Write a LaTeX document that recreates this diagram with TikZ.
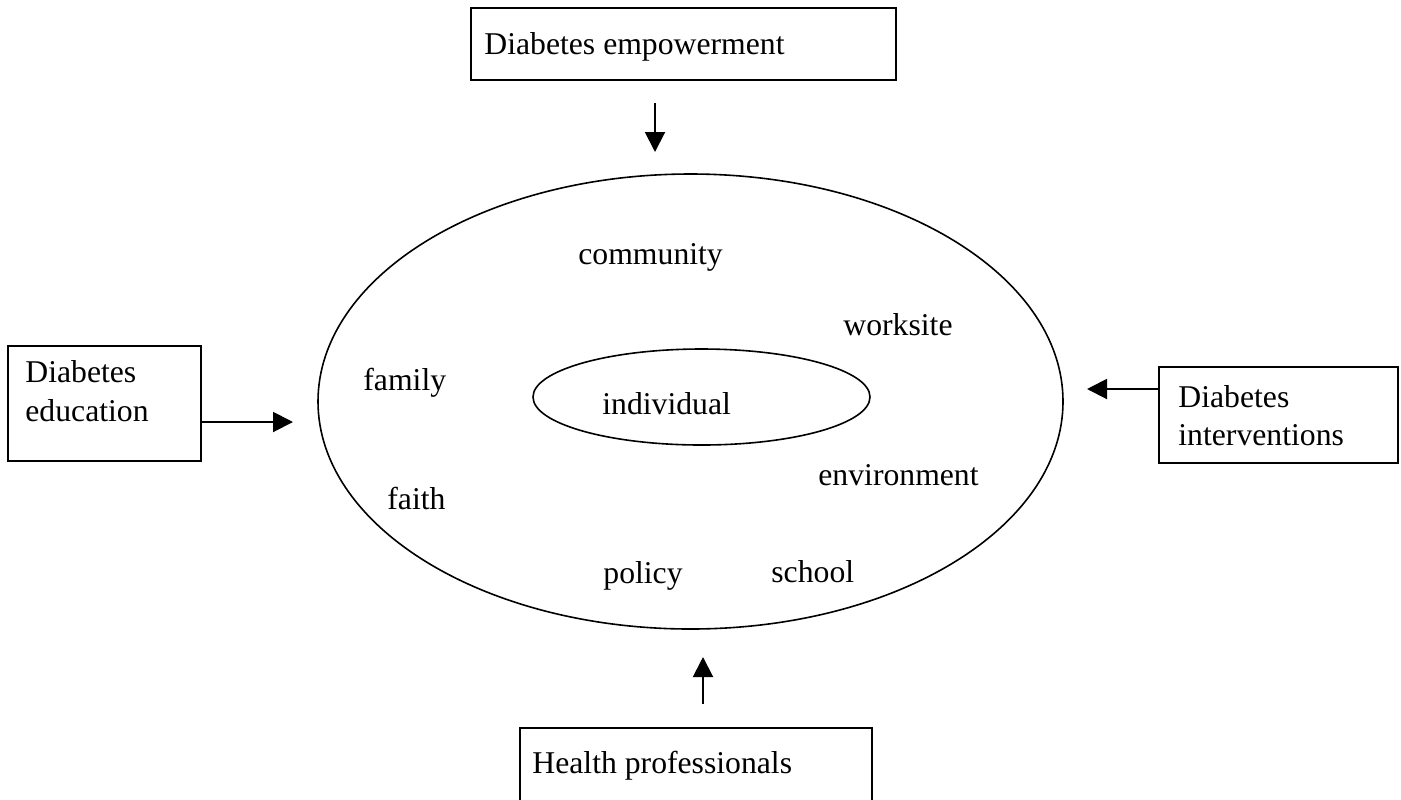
\documentclass[tikz,border=0pt]{standalone}
\usepackage{fontspec}
\setmainfont{Liberation Serif}
\usetikzlibrary{arrows.meta,shapes.geometric}
\begin{document}
\begin{tikzpicture}[x=0.5pt,y=-0.5pt,
  box/.style={draw,line width=1pt,rectangle,inner sep=0,anchor=north west},
  lbl/.style={anchor=base west,inner sep=0,font=\fontsize{15.85pt}{19pt}\selectfont},
  ring/.style={draw,ellipse,line width=0.8pt,inner sep=0},
  arr/.style={line width=1pt,-{Triangle[length=10pt,width=10pt]}}]
\path[use as bounding box] (0,0) rectangle (1401,799);

% outer boxes
\node[box,minimum width=212.5pt,minimum height=36pt] (emp) at (470,7) {};
\node[box,minimum width=96.5pt,minimum height=57.5pt] (edu) at (7,345) {};
\node[box,minimum width=119.5pt,minimum height=48pt] (int) at (1158,366) {};
\node[inner sep=0,anchor=north west,minimum width=175.5pt,minimum height=40pt] (hp) at (520,728) {};
\draw[line width=1pt] (hp.south west) -- (hp.north west) -- (hp.north east) -- (hp.south east);

% box labels
\node[lbl] (empT) at (484,54) {Diabetes empowerment};
\node[lbl] (eduT1) at (25,382) {Diabetes};
\node[lbl] (eduT2) at (25,421) {education};
\node[lbl] (intT1) at (1178,407) {Diabetes};
\node[lbl] (intT2) at (1178,445) {interventions};
\node[lbl] (hpT) at (532,773) {Health professionals};

% ellipses
\node[ring,minimum width=372.5pt,minimum height=227.5pt] (outer) at (690.5,401.5) {};
\node[ring,minimum width=168.5pt,minimum height=48pt] (inner) at (701.5,397) {};

% settings inside the ring
\node[lbl] (indiv) at (602,414) {individual};
\node[lbl] (comm) at (578,264) {community};
\node[lbl] (work) at (843,335) {worksite};
\node[lbl] (env) at (818,485) {environment};
\node[lbl] (fam) at (363,390) {family};
\node[lbl] (faith) at (387,509) {faith};
\node[lbl] (pol) at (603,583) {policy};
\node[lbl] (sch) at (771,582) {school};

% arrows toward the ring
\coordinate (empS) at (655,103);
\coordinate (empE) at (655,152);
\draw[arr] (empS) -- (empE);
\coordinate (eduE) at (293,422);
\draw[arr] (edu.east |- eduE) -- (eduE);
\coordinate (intE) at (1087,389);
\draw[arr] (int.west |- intE) -- (intE);
\coordinate (hpS) at (703,704);
\coordinate (hpE) at (703,657);
\draw[arr] (hpS) -- (hpE);
\end{tikzpicture}
\end{document}
